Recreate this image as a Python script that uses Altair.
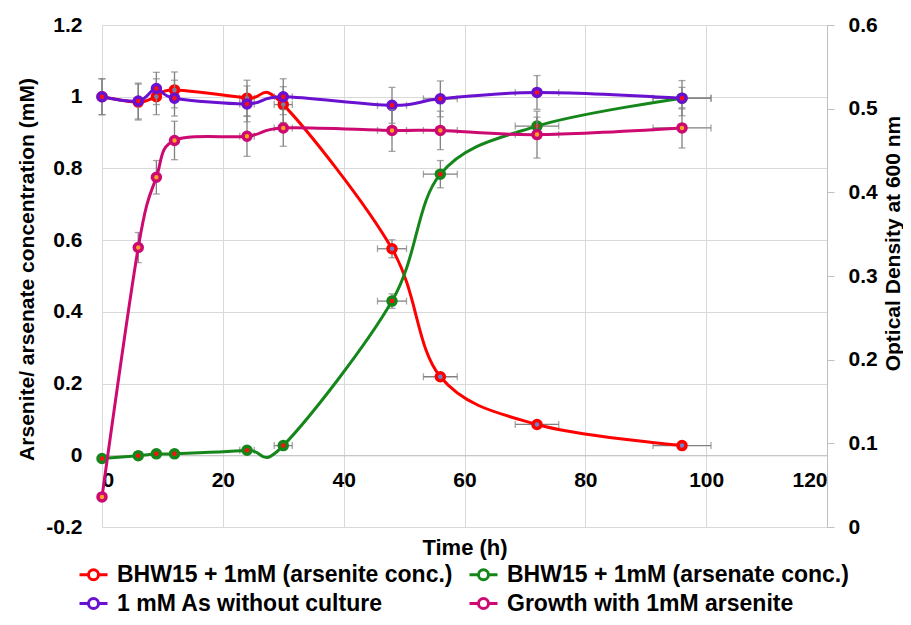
import altair as alt
import pandas as pd

# ---------------- data ----------------
times = [0, 6, 9, 12, 24, 30, 48, 56, 72, 96]
time_err = [0, 0, 0, 0, 1.2, 1.5, 2.4, 2.8, 3.6, 4.8]

arsenite = [1.000, 0.985, 1.000, 1.019, 0.996, 0.978, 0.576, 0.219, 0.086, 0.027]
arsenite_err = [0.05, 0.05, 0.05, 0.05, 0.05, 0.05, 0.025, 0, 0, 0]

arsenate = [-0.009, -0.001, 0.004, 0.004, 0.014, 0.027, 0.430, 0.784, 0.918, 0.996]
arsenate_err = [0, 0, 0, 0, 0, 0, 0.02, 0.038, 0.025, 0.03]

no_culture = [1.000, 0.988, 1.023, 0.996, 0.980, 1.000, 0.976, 0.994, 1.012, 0.996]
no_culture_err = [0.05, 0.05, 0.045, 0.05, 0.05, 0.05, 0.05, 0.05, 0.047, 0.049]

growth_od = [0.036, 0.334, 0.418, 0.462, 0.467, 0.477, 0.474, 0.474, 0.469, 0.477]
growth_err = [0, 0.018, 0.02, 0.023, 0.024, 0.022, 0.025, 0.023, 0.028, 0.024]

series_names = [
    "BHW15 + 1mM (arsenite conc.)",
    "BHW15 + 1mM (arsenate conc.)",
    "1 mM As without culture",
    "Growth with 1mM arsenite",
]
line_colors = ["#ff0000", "#15871a", "#6a10d0", "#cc0a72"]
marker_fills = ["#6a86c8", "#ff1010", "#ff1010", "#ffa020"]

x_ticks = [0, 20, 40, 60, 80, 100, 120]
left_ticks = [-0.2, 0, 0.2, 0.4, 0.6, 0.8, 1.0, 1.2]
right_ticks = [0, 0.1, 0.2, 0.3, 0.4, 0.5, 0.6]

series_values = [arsenite, arsenate, no_culture, growth_od]
series_errs = [arsenite_err, arsenate_err, no_culture_err, growth_err]


def frame(i):
    rows = []
    for t, te, v, e in zip(times, time_err, series_values[i], series_errs[i]):
        rows.append({
            "series": series_names[i], "t": t, "v": v,
            "lo": v - e, "hi": v + e, "err": e,
            "xlo": t - te, "xhi": t + te, "terr": te,
            "lc": line_colors[i], "mf": marker_fills[i],
        })
    return pd.DataFrame(rows)


FONT = "Liberation Sans"
GRID = "#d9d9d9"
AXC = "#bfbfbf"
ERRC = "#808080"

x_scale = alt.Scale(domain=[0, 120], nice=False, zero=False)
x_axis = alt.Axis(
    values=x_ticks, grid=True, gridColor=GRID, domain=True, domainColor=AXC,
    ticks=False, tickSize=0, labelPadding=14, labelFontSize=21, offset=-71.7,
    titleFontSize=22, titleY=92, titleBaseline="middle",
)
x_title = "Time (h)"

left_scale = alt.Scale(domain=[-0.2, 1.2], nice=False, zero=False)
left_axis = alt.Axis(
    orient="left", values=left_ticks, grid=True, gridColor=GRID, domain=False,
    ticks=False, tickSize=0, labelPadding=20, labelFontSize=21, format="~g",
    labelExpr="replace(datum.label, '\u2212', '-')",
    titleFontSize=21, titleAngle=270, titleX=-75, titleY=244,
    titleAlign="center", titleBaseline="middle",
)
left_title = "Arsenite/ arsenate concentration (mM)"

right_scale = alt.Scale(domain=[0, 0.6], nice=False, zero=False)
right_axis = alt.Axis(
    orient="right", values=right_ticks, grid=False, domain=True, domainColor=AXC,
    ticks=True, tickColor=AXC, tickSize=7, labelPadding=14, labelFontSize=21,
    format="~g", titleFontSize=21, titleAngle=270, titleX=66, titleY=218,
    titleAlign="center", titleBaseline="middle",
)
right_title = "Optical Density at 600 nm"

legend = alt.Legend(
    title=None, orient="none", legendX=-24, legendY=534, columns=2,
    direction="horizontal",
    columnPadding=10, rowPadding=1,
    symbolType="M-1,0L-0.36,0M0.36,0L1,0M0.36,0A0.36,0.36,0,1,1,-0.36,0A0.36,0.36,0,1,1,0.36,0",
    symbolSize=784, symbolStrokeWidth=3, symbolFillColor="white",
    labelFontSize=23, labelFontWeight="bold", labelOffset=8, labelLimit=0,
    padding=0, labelFont=FONT,
)
color_enc = alt.Color("series:N", scale=alt.Scale(domain=series_names, range=line_colors),
                      legend=legend)


def series_layers(i, yscale, yaxis, ytitle):
    df = frame(i)
    X = alt.X("t:Q", scale=x_scale, axis=x_axis, title=x_title)
    Y = alt.Y("v:Q", scale=yscale, axis=yaxis, title=ytitle)
    layers = []
    dv = df[df["err"] > 0]
    if len(dv):
        layers.append(
            alt.Chart(dv).mark_errorbar(ticks=True, color=ERRC, size=7, thickness=1.3).encode(
                x=X,
                y=alt.Y("lo:Q", scale=yscale, axis=yaxis, title=ytitle),
                y2=alt.Y2("hi:Q"),
            )
        )
    dh = df[df["terr"] > 0]
    if len(dh):
        layers.append(
            alt.Chart(dh).mark_errorbar(ticks=True, color=ERRC, size=7, thickness=1.3).encode(
                x=alt.X("xlo:Q", scale=x_scale, axis=x_axis, title=x_title),
                x2=alt.X2("xhi:Q"),
                y=Y,
            )
        )
    layers.append(
        alt.Chart(df).mark_line(interpolate="cardinal", strokeWidth=3).encode(
            x=X, y=Y, color=color_enc
        )
    )
    layers.append(
        alt.Chart(df).mark_point(filled=True, size=64, strokeWidth=3.5, opacity=1).encode(
            x=X, y=Y,
            stroke=alt.Stroke("lc:N", scale=None),
            fill=alt.Fill("mf:N", scale=None),
        )
    )
    return layers


left_layers = []
for i in range(3):
    left_layers += series_layers(i, left_scale, left_axis, left_title)
right_layers = series_layers(3, right_scale, right_axis, right_title)

left = alt.layer(*left_layers)
right = alt.layer(*right_layers)

chart = (
    alt.layer(left, right)
    .resolve_scale(y="independent")
    .properties(
        width=725, height=502,
        autosize=alt.AutoSizeParams(type="none"),
        padding={"left": 94, "top": 17, "right": 76, "bottom": 90},
    )
    .configure(font=FONT)
    .configure_axis(labelFont=FONT, titleFont=FONT, labelFontWeight="bold",
                    titleFontWeight="bold", labelColor="black", titleColor="black")
    .configure_view(stroke=None)
)

chart.save("out.html", embed_options={"renderer": "svg", "actions": False})
